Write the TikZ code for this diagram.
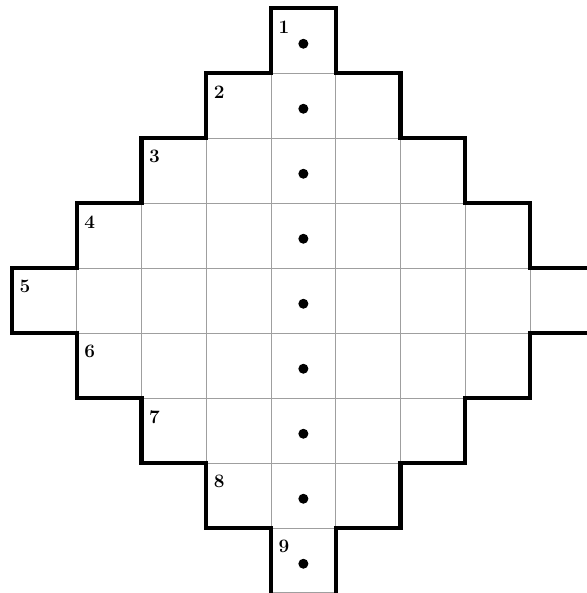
\documentclass[tikz,border=0pt]{standalone}
\begin{document}
\begin{tikzpicture}[x=64.75pt,y=-65pt,
  gridline/.style={gray!75,line width=0.7pt},
  outline/.style={black,line width=4.2pt,line join=miter},
  lbl/.style={font=\fontsize{19}{19}\selectfont\bfseries,inner sep=0pt},
  pip/.style={circle,fill=black,minimum size=10pt,inner sep=0pt}]
\useasboundingbox (-0.1853,-0.1231) rectangle (8.8803,9);
\def\shape{(4,9.3) -- (4,8) -- (3,8) -- (3,7) -- (2,7) -- (2,6) -- (1,6) -- (1,5) -- (0,5) -- (0,4) -- (1,4) -- (1,3) -- (2,3) -- (2,2) -- (3,2) -- (3,1) -- (4,1) -- (4,0) -- (5,0) -- (5,1) -- (6,1) -- (6,2) -- (7,2) -- (7,3) -- (8,3) -- (8,4) -- (9.3,4) -- (9.3,5) -- (8,5) -- (8,6) -- (7,6) -- (7,7) -- (6,7) -- (6,8) -- (5,8) -- (5,9.3) -- cycle}
\begin{scope}
  \clip \shape;
  \foreach \r in {1,...,8} \draw[gridline] (0,\r) -- (9.3,\r);
  \foreach \c in {1,...,8} \draw[gridline] (\c,0) -- (\c,9.3);
  \draw[gridline] (4,8.985) -- (5,8.985);
\end{scope}
\draw[outline] (4,9.3) -- (4,8) -- (3,8) -- (3,7) -- (2,7) -- (2,6) -- (1,6) -- (1,5) -- (0,5) -- (0,4) -- (1,4) -- (1,3) -- (2,3) -- (2,2) -- (3,2) -- (3,1) -- (4,1) -- (4,0) -- (5,0) -- (5,1) -- (6,1) -- (6,2) -- (7,2) -- (7,3) -- (8,3) -- (8,4) -- (9.3,4) -- (9.3,5) -- (8,5) -- (8,6) -- (7,6) -- (7,7) -- (6,7) -- (6,8) -- (5,8) -- (5,9.3);
\foreach \r [evaluate=\r as \n using int(\r+1), evaluate=\r as \c using abs(\r-4)] in {0,...,8} {
  \node[lbl] (n\n) at (\c+0.2,\r+0.29) {\n};
  \node[pip] (d\n) at (4.5,\r+0.55) {};
}
\end{tikzpicture}
\end{document}
